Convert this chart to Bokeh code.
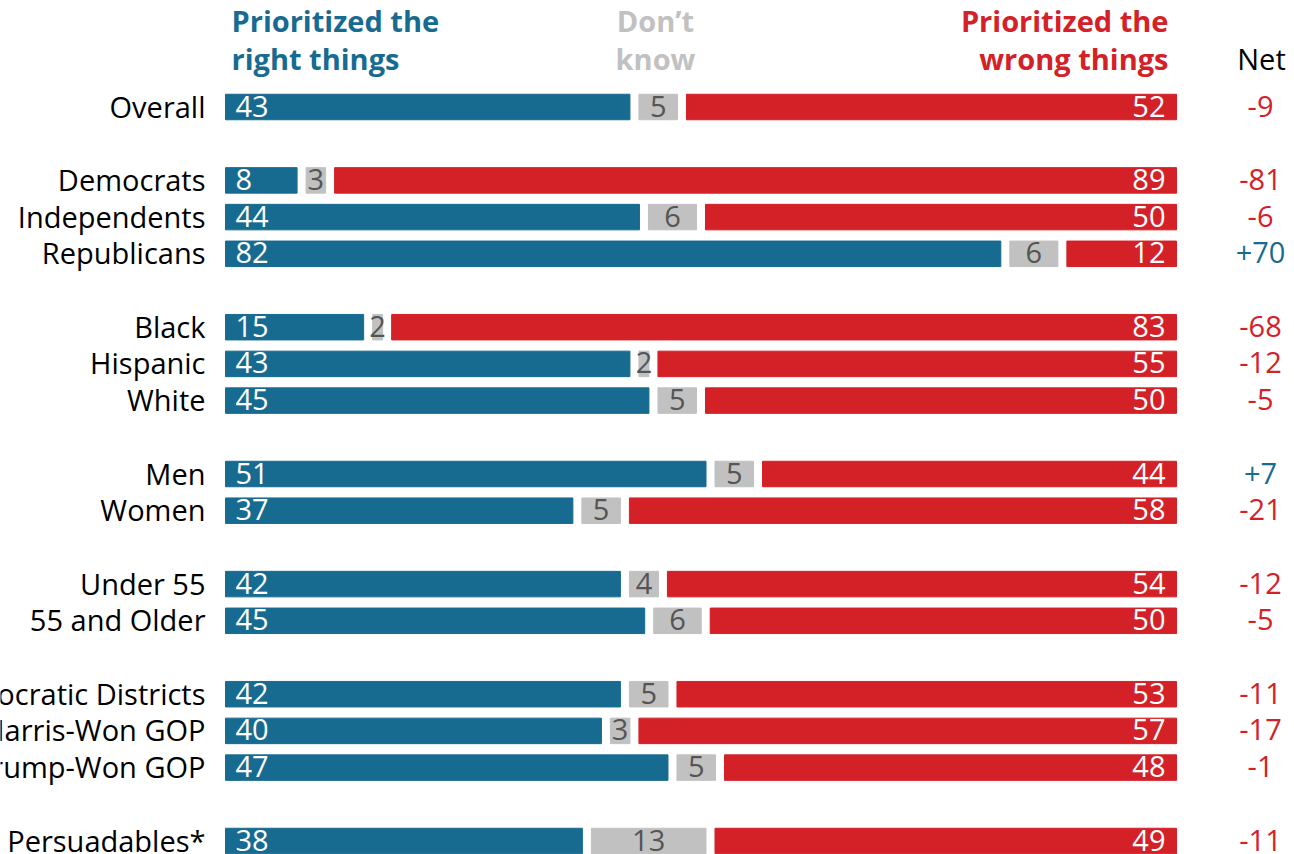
from bokeh.plotting import figure
from bokeh.models import ColumnDataSource, Range1d
from bokeh.core.properties import value
from bokeh.embed import file_html
from bokeh.resources import INLINE

# ---------------- data ----------------
groups = [
    ["Overall"],
    ["Democrats", "Independents", "Republicans"],
    ["Black", "Hispanic", "White"],
    ["Men", "Women"],
    ["Under 55", "55 and Older"],
    ["Democratic Districts", "Harris-Won GOP", "Trump-Won GOP"],
    ["Persuadables*"],
]
right_things = [43, 8, 44, 82, 15, 43, 45, 51, 37, 42, 45, 42, 40, 47, 38]
dont_know = [5, 3, 6, 6, 2, 2, 5, 5, 5, 4, 6, 5, 3, 5, 13]
wrong_things = [52, 89, 50, 12, 83, 55, 50, 44, 58, 54, 50, 53, 57, 48, 49]
header_right = ["Prioritized the", "right things"]
header_dk = ["Don\u2019t", "know"]
header_wrong = ["Prioritized the", "wrong things"]
header_net = "Net"

# ---------------- style ----------------
BLUE = "#176b91"
RED = "#d42127"
GRAY = "#c1c1c1"
GRAY_TXT = "#555555"
FONT = value("Open Sans")
FS = "29px"

W, H = 1294, 854
ORIGIN = 0          # page position of the canvas' top-left corner
TXT_SHIFT = 12.5    # renderer draws alphabetic baselines this much lower
X0_PAGE, X100_PAGE = 225, 1176
SCALE = (X100_PAGE - X0_PAGE) / 100.0
ROW0_PAGE, PITCH = 106.5, 36.7


def px_x(page_x):
    return (page_x - X0_PAGE) / SCALE


def px_y(page_y):
    return -(page_y - ROW0_PAGE) / PITCH


def base_y(page_y):
    return px_y(page_y - TXT_SHIFT)


x_start = px_x(ORIGIN)
y_top = px_y(ORIGIN)

p = figure(width=W, height=H, output_backend="svg", toolbar_location=None,
           x_range=Range1d(x_start, x_start + W / SCALE),
           y_range=Range1d(y_top - H / PITCH, y_top),
           min_border=0)
p.axis.visible = False
p.grid.visible = False
p.outline_line_color = None
p.background_fill_color = "white"
p.border_fill_color = "white"

# row positions: a blank row between groups
labels, ys = [], []
r = 0
for gi, g in enumerate(groups):
    for lab in g:
        labels.append(lab)
        ys.append(-r)
        r += 1
    r += 1

gap = 9.0 / SCALE  # white gap between segments, in data units
half = gap / 2

b_l, b_r, g_l, g_r, r_l, r_r, g_mid = [], [], [], [], [], [], []
for a, d, w in zip(right_things, dont_know, wrong_things):
    tot = float(a + d + w)
    e1 = a * 100 / tot
    e2 = (a + d) * 100 / tot
    b_l.append(0)
    b_r.append(e1 - half)
    g_l.append(e1 + half)
    g_r.append(e2 - half)
    r_l.append(e2 + half)
    r_r.append(100)
    g_mid.append((e1 + e2) / 2)

BH = 25.5 / PITCH
TY = (11.5 - TXT_SHIFT) / PITCH
src = ColumnDataSource(dict(y=ys, bl=b_l, br=b_r, gl=g_l, gr=g_r, rl=r_l, rr=r_r, gm=g_mid,
                            ty=[y - TY for y in ys],
                            lab=labels,
                            a=[str(v) for v in right_things],
                            d=[str(v) for v in dont_know],
                            w=[str(v) for v in wrong_things]))

p.hbar(y="y", left="bl", right="br", height=BH, color=BLUE, source=src)
p.hbar(y="y", left="gl", right="gr", height=BH, color=GRAY, source=src)
p.hbar(y="y", left="rl", right="rr", height=BH, color=RED, source=src)

# category labels
p.text(x=px_x(205), y="ty", text="lab", source=src, text_align="right",
       text_baseline="alphabetic", text_font=FONT, text_font_size=FS, text_color="black")
# values
p.text(x=px_x(X0_PAGE + 10), y="ty", text="a", source=src, text_align="left",
       text_baseline="alphabetic", text_font=FONT, text_font_size=FS, text_color="white")
p.text(x="gm", y="ty", text="d", source=src, text_align="center",
       text_baseline="alphabetic", text_font=FONT, text_font_size=FS, text_color=GRAY_TXT)
p.text(x=px_x(X100_PAGE - 11), y="ty", text="w", source=src, text_align="right",
       text_baseline="alphabetic", text_font=FONT, text_font_size=FS, text_color="white")

# net column
nets = [a - w for a, w in zip(right_things, wrong_things)]
net_src = ColumnDataSource(dict(
    y=[y - TY for y in ys],
    t=[("+%d" % n) if n > 0 else str(n) for n in nets],
    c=[BLUE if n > 0 else RED for n in nets]))
p.text(x=px_x(1260), y="y", text="t", text_color="c", source=net_src, text_align="center",
       text_baseline="alphabetic", text_font=FONT, text_font_size=FS)

# headers
L1, L2 = base_y(32), base_y(70)
p.text(x=[px_x(231)] * 2, y=[L1, L2], text=header_right, text_align="left",
       text_baseline="alphabetic", text_font=FONT, text_font_size=FS,
       text_font_style="bold", text_color=BLUE)
p.text(x=[px_x(655)] * 2, y=[L1, L2], text=header_dk, text_align="center",
       text_baseline="alphabetic", text_font=FONT, text_font_size=FS,
       text_font_style="bold", text_color=GRAY)
p.text(x=[px_x(1168)] * 2, y=[L1, L2], text=header_wrong, text_align="right",
       text_baseline="alphabetic", text_font=FONT, text_font_size=FS,
       text_font_style="bold", text_color=RED)
p.text(x=[px_x(1261)], y=[L2], text=[header_net], text_align="center",
       text_baseline="alphabetic", text_font=FONT, text_font_size=FS,
       text_color="black")

open("out.html", "w").write(file_html(p, INLINE))
